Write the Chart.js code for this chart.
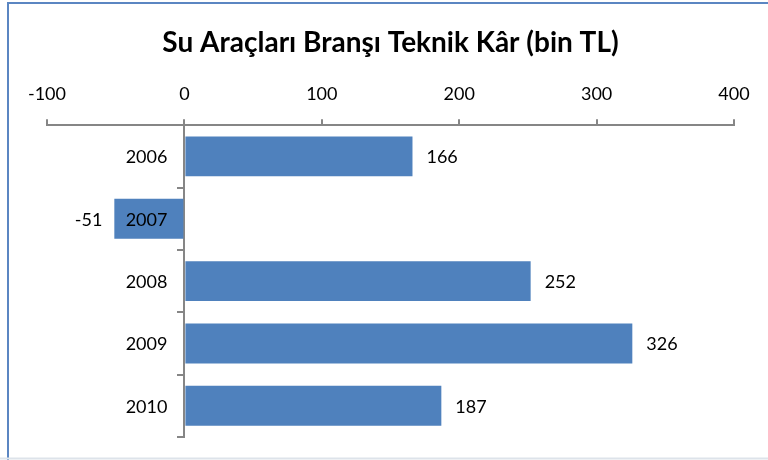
<!DOCTYPE html>
<html>
<head>
<meta charset="utf-8">
<script src="https://cdn.jsdelivr.net/npm/chart.js@4"></script>
<style>
    body { margin: 0; background: #fff; }
    #wrap { width: 768px; height: 460px; }
</style>
</head>
<body>
<div id="wrap"><canvas id="chart" width="768" height="460"></canvas></div>
<script>
"use strict";

const years = ["2006", "2007", "2008", "2009", "2010"];
const profit = [166, -51, 252, 326, 187];
const xTicks = [-100, 0, 100, 200, 300, 400];

const frame = {
    id: "frame",
    beforeDraw(chart) {
        const ctx = chart.ctx;
        ctx.save();
        ctx.fillStyle = "#fff";
        ctx.fillRect(0, 0, chart.width, chart.height);
        ctx.strokeStyle = "#5b86c2";
        ctx.lineWidth = 2;
        ctx.beginPath();
        ctx.moveTo(8, chart.height);
        ctx.lineTo(8, 3);
        ctx.lineTo(chart.width, 3);
        ctx.stroke();
        ctx.strokeStyle = "#dde3ea";
        ctx.beginPath();
        ctx.moveTo(0, 458.5);
        ctx.lineTo(chart.width, 458.5);
        ctx.stroke();
        ctx.restore();
    }
};

// year labels left of the zero line, value labels at the bar ends
const labels = {
    id: "labels",
    afterDraw(chart) {
        const ctx = chart.ctx;
        const meta = chart.getDatasetMeta(0);
        const zeroX = chart.scales.x.getPixelForValue(0);
        ctx.save();
        ctx.font = "18px Lato";
        ctx.fillStyle = "#000";
        ctx.textBaseline = "middle";
        meta.data.forEach((bar, i) => {
            const y = chart.scales.y.getPixelForValue(i) + 1;
            ctx.textAlign = "right";
            ctx.fillText(years[i], zeroX - 17, y);
            const v = profit[i];
            if (v >= 0) {
                ctx.textAlign = "left";
                ctx.fillText(String(v), bar.x + 14, y);
            } else {
                ctx.textAlign = "right";
                ctx.fillText(String(v), bar.x - 12, y);
            }
        });
        ctx.restore();
    }
};

new Chart(document.getElementById("chart").getContext("2d"), {
    type: "bar",
    data: {
        labels: years,
        datasets: [{
            data: profit,
            backgroundColor: "#4f81bd",
            borderWidth: 0,
            categoryPercentage: 1,
            barPercentage: 0.64
        }]
    },
    plugins: [frame, labels],
    options: {
        indexAxis: "y",
        responsive: false,
        animation: false,
        layout: { padding: { left: 47, right: 34, top: 0, bottom: 23 } },
        plugins: {
            legend: { display: false },
            tooltip: { enabled: false },
            title: {
                display: true,
                text: "Su Araçları Branşı Teknik Kâr (bin TL)",
                color: "#000",
                font: { family: "Lato", size: 28, weight: "bold" },
                padding: { top: 26, bottom: 10 }
            }
        },
        scales: {
            x: {
                position: "top",
                min: -100,
                max: 400,
                afterBuildTicks: axis => {
                    axis.ticks = xTicks.map(v => ({ value: v }));
                },
                grid: {
                    drawOnChartArea: false,
                    tickLength: 6,
                    color: "#868686",
                    lineWidth: 2
                },
                border: { color: "#868686", width: 2 },
                ticks: {
                    color: "#000",
                    padding: 14,
                    font: { family: "Lato", size: 18 }
                }
            },
            y: {
                position: { x: 0 },
                grid: {
                    drawOnChartArea: false,
                    tickLength: 6,
                    color: "#868686",
                    lineWidth: 2,
                    offset: true
                },
                border: { color: "#868686", width: 2 },
                ticks: { display: false }
            }
        }
    }
});
</script>
</body>
</html>
